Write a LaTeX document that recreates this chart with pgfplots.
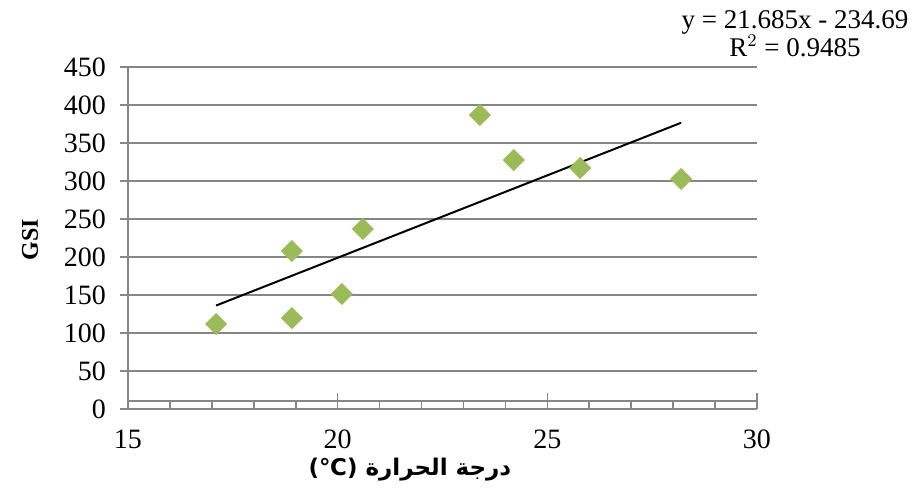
\documentclass[border=0pt]{standalone}
\usepackage{pgfplots}
\pgfplotsset{compat=1.18}
\usepackage{fontspec}
\setmainfont{Liberation Serif}
\newfontfamily\arabicfont[Script=Arabic]{DejaVu Sans}
\TeXXeTstate=1
\definecolor{ptgreen}{HTML}{9BBB59}
\definecolor{gridgray}{HTML}{868686}
\begin{document}
\begin{tikzpicture}
\begin{axis}[
  scale only axis,
  width=314.5pt, height=171pt,
  xmin=15, xmax=30, ymin=0, ymax=450,
  clip=false,
  axis lines=left,
  axis line style={-, draw=gridgray, line width=0.8pt},
  xtick={15,20,25,30},
  ytick={0,50,...,450},
  xtick style={draw=none},
  ytick style={draw=gridgray, line width=0.8pt},
  tick align=outside,
  major tick length=4pt,
  ymajorgrids,
  grid style={draw=gridgray, line width=0.8pt},
  tick label style={font=\fontsize{14}{16}\selectfont},
  /pgf/number format/assume math mode=true,
  xticklabel style={yshift=-3pt},
  yticklabel style={xshift=-3.5pt},
]
% x-axis line and tick marks (Excel style)
\draw[gridgray, line width=0.8pt] (axis cs:15,10.5) -- (axis cs:30,10.5);
\pgfplotsinvokeforeach{15,20,25,30}{\draw[gridgray, line width=0.8pt] (axis cs:#1,0) -- (axis cs:#1,21);}
\pgfplotsinvokeforeach{16,17,18,19,21,22,23,24,26,27,28,29}{\draw[gridgray, line width=0.8pt] (axis cs:#1,0) -- (axis cs:#1,10.5);}
% trend line
\addplot[black, line width=1pt, no marks] coordinates {(17.10,136.1) (28.19,376.6)};
% data
\addplot[only marks, mark=square*, mark size=3.7pt, mark options={rotate=45, fill=ptgreen, draw=ptgreen}]
coordinates {
(17.10,111.8)
(18.91,119.7)
(18.91,207.9)
(20.10,151.3)
(20.60,236.8)
(23.39,386.8)
(24.20,327.6)
(25.78,317.1)
(28.19,302.6)
};
\end{axis}
\node[font=\fontsize{13.5}{14}\selectfont, align=center] at (333.5pt,187.5pt) {y = 21.685x - 234.69\\R$^2$ = 0.9485};
\node[font=\bfseries\fontsize{12}{14}\selectfont, rotate=90] at (-49pt,84.5pt) {GSI};
\node[font=\arabicfont\bfseries\fontsize{11.5}{14}\selectfont] at (141pt,-30.5pt) {(℃) \beginR درجة الحرارة\endR};
\useasboundingbox (-64pt,-41pt) rectangle (395pt,204.5pt);
\end{tikzpicture}
\end{document}
